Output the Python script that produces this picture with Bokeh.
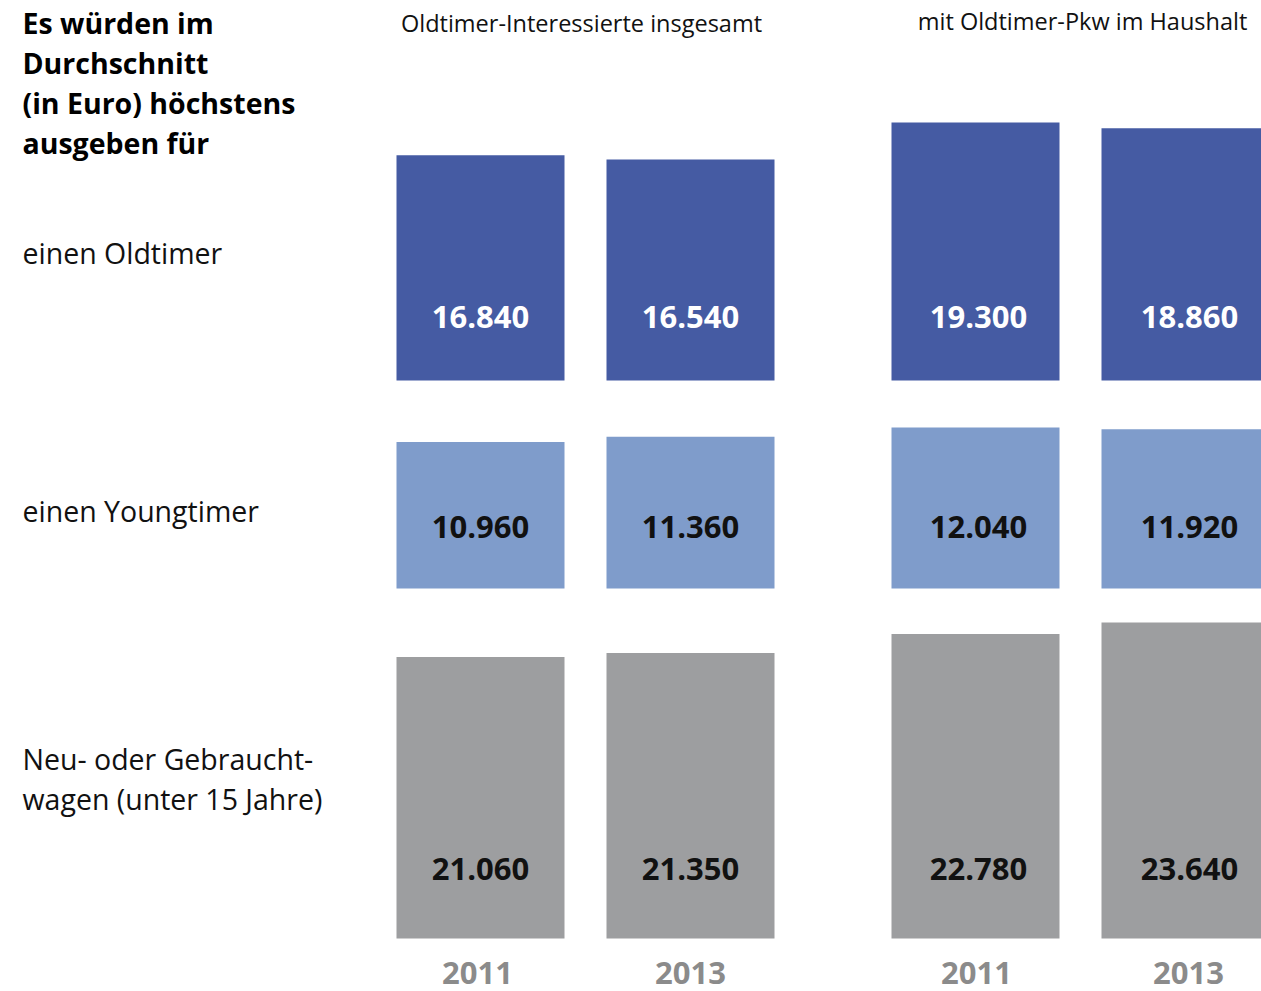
from bokeh.plotting import figure
from bokeh.models import Range1d, ColumnDataSource
from bokeh.core.properties import value
from bokeh.embed import file_html
from bokeh.resources import INLINE

# ---- data ----
groups = ["Oldtimer-Interessierte insgesamt", "mit Oldtimer-Pkw im Haushalt"]
years = ["2011", "2013", "2011", "2013"]
categories = ["einen Oldtimer", "einen Youngtimer", "Neu- oder Gebraucht-\nwagen (unter 15 Jahre)"]
oldtimer = [16840, 16540, 19300, 18860]
youngtimer = [10960, 11360, 12040, 11920]
neuwagen = [21060, 21350, 22780, 23640]
title_lines = ["Es würden im", "Durchschnitt", "(in Euro) höchstens", "ausgeben für"]

# ---- layout ----
W, H = 1261, 991
OFF = 0
EUR_PER_PX = 74.8
FONT = "Open Sans"


def Y(py):
    """screen pixel row -> data (euro) coordinate"""
    return (OFF + H - py) * EUR_PER_PX


p = figure(width=W, height=H, output_backend="svg", toolbar_location=None,
           x_range=Range1d(OFF, OFF + W), y_range=Range1d(0, H * EUR_PER_PX),
           min_border=0)
p.axis.visible = False
p.grid.visible = False
p.outline_line_color = None
p.background_fill_color = "white"

bar_x = [480, 690, 975, 1185]
label_x = [480, 690, 978, 1189]
year_x = [477, 690, 976, 1188]
BAR_W = 168

rows = [
    (oldtimer, 380, "#455ba3", "white", 64),
    (youngtimer, 588, "#7f9ccb", "#111111", 62),
    (neuwagen, 938, "#9d9ea0", "#111111", 70),
]

for vals, base_py, color, tcolor, loff in rows:
    base = Y(base_py)
    src = ColumnDataSource(dict(
        x=bar_x, lx=label_x,
        bottom=[base] * len(vals),
        top=[base + v for v in vals],
        ly=[Y(base_py - loff)] * len(vals),
        txt=[f"{v:,}".replace(",", ".") for v in vals],
    ))
    p.vbar(x="x", width=BAR_W, bottom="bottom", top="top", source=src,
           fill_color=color, line_color=None)
    p.text(x="lx", y="ly", text="txt", source=src, text_color=tcolor,
           text_font=value(FONT), text_font_style="bold", text_font_size="31px",
           text_align="center", text_baseline="middle")

# years
p.text(x=year_x, y=[Y(972)] * 4, text=years, text_color="#8b8b8b",
       text_font=value(FONT), text_font_style="bold", text_font_size="31px",
       text_align="center", text_baseline="middle")

# group headers
p.text(x=[581, 1082], y=[Y(22), Y(20)], text=groups, text_color="#111111",
       text_font=value(FONT), text_font_size="23.5px",
       text_align="center", text_baseline="middle")

# title
p.text(x=[22] * 4, y=[Y(22), Y(62), Y(102), Y(142)], text=title_lines,
       text_color="#000000", text_font=value(FONT), text_font_style="bold",
       text_font_size="28.5px", text_align="left", text_baseline="middle")

# row labels
cat_lines = [categories[0], categories[1]] + categories[2].split("\n")
p.text(x=[22] * 4, y=[Y(252), Y(510), Y(758), Y(798)], text=cat_lines,
       text_color="#111111", text_font=value(FONT), text_font_size="28.5px",
       text_align="left", text_baseline="middle")

open("out.html", "w").write(file_html(p, INLINE))
